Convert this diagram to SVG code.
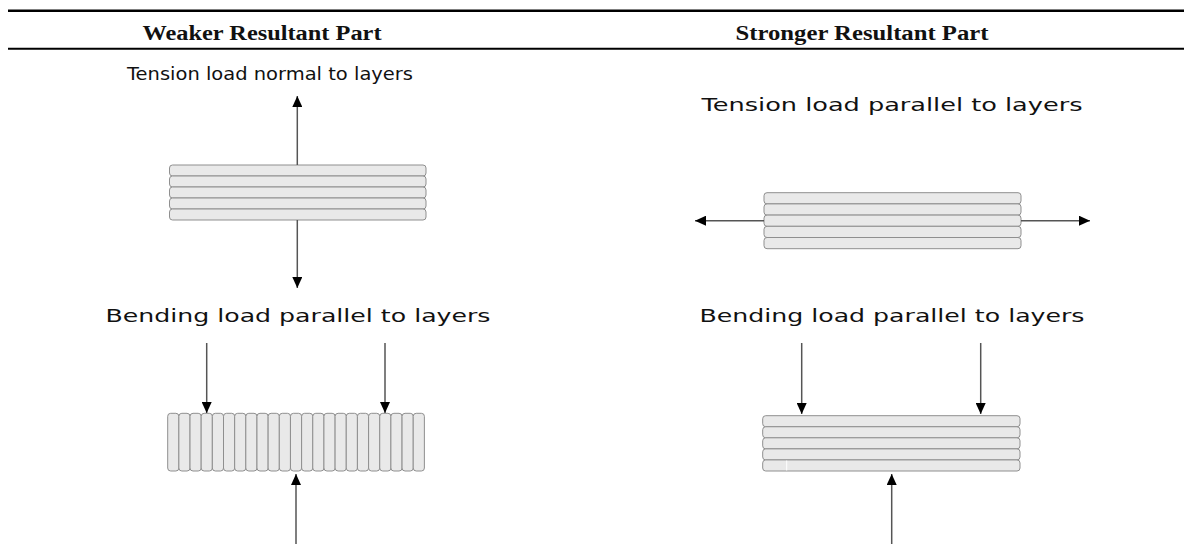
<svg xmlns="http://www.w3.org/2000/svg" width="1184" height="544" viewBox="0 0 1184 544">
<style>
.hdr{font-family:"Liberation Serif","Times New Roman",serif;font-weight:bold;font-size:20px;fill:#111;text-anchor:middle}
.lbl{font-family:"DejaVu Sans","Liberation Sans",sans-serif;font-size:18px;fill:#111;text-anchor:middle}
.layer{fill:#e9e9e9;stroke:#8f8f8f;stroke-width:1}
.arr{stroke:#555;stroke-width:1.5;fill:none;marker-end:url(#ah)}
</style>
<defs>
<marker id="ah" markerUnits="userSpaceOnUse" markerWidth="11" markerHeight="10" refX="11" refY="5" orient="auto" viewBox="0 0 11 10">
<path d="M0,0 L11,5 L0,10 z" fill="#000"/>
</marker>
</defs>
<rect width="1184" height="544" fill="#fff"/>
<g id="header">
<line x1="8" y1="10.7" x2="1184" y2="10.7" stroke="#000" stroke-width="2.6"/>
<line x1="8" y1="48.8" x2="1184" y2="48.8" stroke="#000" stroke-width="2"/>
<text class="hdr" x="262" y="40" textLength="239" lengthAdjust="spacingAndGlyphs">Weaker Resultant Part</text>
<text class="hdr" x="862" y="40" textLength="253" lengthAdjust="spacingAndGlyphs">Stronger Resultant Part</text>
</g>
<g id="labels">
<text class="lbl" x="270" y="80" font-size="17" textLength="286" lengthAdjust="spacingAndGlyphs">Tension load normal to layers</text>
<text class="lbl" x="892" y="111" font-size="20" textLength="381" lengthAdjust="spacingAndGlyphs">Tension load parallel to layers</text>
<text class="lbl" x="298" y="322" font-size="20" textLength="385" lengthAdjust="spacingAndGlyphs">Bending load parallel to layers</text>
<text class="lbl" x="892" y="322" font-size="20" textLength="385" lengthAdjust="spacingAndGlyphs">Bending load parallel to layers</text>
</g>
<g id="stack-tension-normal">
<rect class="layer" x="169.5" y="165" width="256.5" height="11" rx="3"/>
<rect class="layer" x="169.5" y="176" width="256.5" height="11" rx="3"/>
<rect class="layer" x="169.5" y="187" width="256.5" height="11" rx="3"/>
<rect class="layer" x="169.5" y="198" width="256.5" height="11" rx="3"/>
<rect class="layer" x="169.5" y="209" width="256.5" height="11" rx="3"/>
</g>
<g id="stack-tension-parallel">
<rect class="layer" x="764" y="192.7" width="257" height="11.2" rx="3"/>
<rect class="layer" x="764" y="203.9" width="257" height="11.2" rx="3"/>
<rect class="layer" x="764" y="215.1" width="257" height="11.2" rx="3"/>
<rect class="layer" x="764" y="226.3" width="257" height="11.2" rx="3"/>
<rect class="layer" x="764" y="237.5" width="257" height="11.2" rx="3"/>
</g>
<g id="stack-bending-weak">
<rect class="layer" x="167.70" y="413.3" width="11.16" height="57.7" rx="3"/>
<rect class="layer" x="178.86" y="413.3" width="11.16" height="57.7" rx="3"/>
<rect class="layer" x="190.02" y="413.3" width="11.16" height="57.7" rx="3"/>
<rect class="layer" x="201.18" y="413.3" width="11.16" height="57.7" rx="3"/>
<rect class="layer" x="212.34" y="413.3" width="11.16" height="57.7" rx="3"/>
<rect class="layer" x="223.50" y="413.3" width="11.16" height="57.7" rx="3"/>
<rect class="layer" x="234.66" y="413.3" width="11.16" height="57.7" rx="3"/>
<rect class="layer" x="245.82" y="413.3" width="11.16" height="57.7" rx="3"/>
<rect class="layer" x="256.98" y="413.3" width="11.16" height="57.7" rx="3"/>
<rect class="layer" x="268.14" y="413.3" width="11.16" height="57.7" rx="3"/>
<rect class="layer" x="279.30" y="413.3" width="11.16" height="57.7" rx="3"/>
<rect class="layer" x="290.46" y="413.3" width="11.16" height="57.7" rx="3"/>
<rect class="layer" x="301.62" y="413.3" width="11.16" height="57.7" rx="3"/>
<rect class="layer" x="312.78" y="413.3" width="11.16" height="57.7" rx="3"/>
<rect class="layer" x="323.94" y="413.3" width="11.16" height="57.7" rx="3"/>
<rect class="layer" x="335.10" y="413.3" width="11.16" height="57.7" rx="3"/>
<rect class="layer" x="346.26" y="413.3" width="11.16" height="57.7" rx="3"/>
<rect class="layer" x="357.42" y="413.3" width="11.16" height="57.7" rx="3"/>
<rect class="layer" x="368.58" y="413.3" width="11.16" height="57.7" rx="3"/>
<rect class="layer" x="379.74" y="413.3" width="11.16" height="57.7" rx="3"/>
<rect class="layer" x="390.90" y="413.3" width="11.16" height="57.7" rx="3"/>
<rect class="layer" x="402.06" y="413.3" width="11.16" height="57.7" rx="3"/>
<rect class="layer" x="413.22" y="413.3" width="11.16" height="57.7" rx="3"/>
</g>
<g id="stack-bending-strong">
<rect class="layer" x="762.7" y="415.7" width="257.3" height="11.06" rx="3"/>
<rect class="layer" x="762.7" y="426.76" width="257.3" height="11.06" rx="3"/>
<rect class="layer" x="762.7" y="437.82" width="257.3" height="11.06" rx="3"/>
<rect class="layer" x="762.7" y="448.88" width="257.3" height="11.06" rx="3"/>
<rect class="layer" x="762.7" y="459.94" width="257.3" height="11.06" rx="3"/>
<line x1="786.7" y1="460.5" x2="786.7" y2="470.5" stroke="#fff" stroke-width="1"/>
</g>
<g id="connectors">
<line class="arr" x1="297.3" y1="165" x2="297.3" y2="96"/>
<line class="arr" x1="297.3" y1="220" x2="297.3" y2="288"/>
<line class="arr" x1="764" y1="220.7" x2="695" y2="220.7"/>
<line class="arr" x1="1021" y1="220.7" x2="1090" y2="220.7"/>
<line class="arr" x1="206.7" y1="343" x2="206.7" y2="413"/>
<line class="arr" x1="385" y1="343" x2="385" y2="413"/>
<line class="arr" x1="296" y1="544" x2="296" y2="474"/>
<line class="arr" x1="801.7" y1="343" x2="801.7" y2="414"/>
<line class="arr" x1="980.7" y1="343" x2="980.7" y2="414"/>
<line class="arr" x1="891.7" y1="544" x2="891.7" y2="474"/>
</g>
</svg>
